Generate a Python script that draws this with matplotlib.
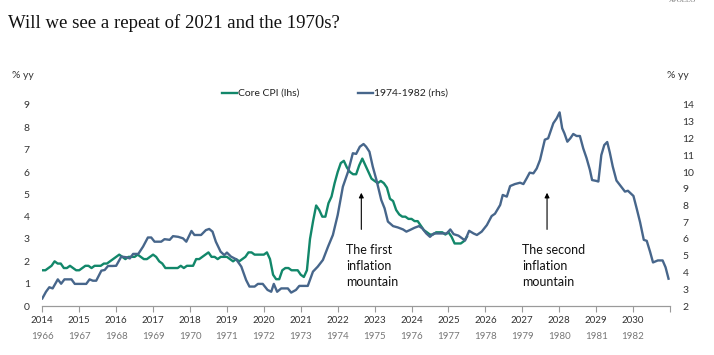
import numpy as np
import matplotlib.pyplot as plt
from matplotlib.lines import Line2D

plt.rcParams['font.family'] = ['Lato', 'DejaVu Sans']

# Core CPI, % yy, monthly Jan 2014 - Jul 2025 (left axis)
core_cpi = [
    1.6, 1.6, 1.7, 1.8, 2.0, 1.9, 1.9, 1.7, 1.7, 1.8, 1.7, 1.6,
    1.6, 1.7, 1.8, 1.8, 1.7, 1.8, 1.8, 1.8, 1.9, 1.9, 2.0, 2.1,
    2.2, 2.3, 2.2, 2.1, 2.2, 2.2, 2.2, 2.3, 2.2, 2.1, 2.1, 2.2,
    2.3, 2.2, 2.0, 1.9, 1.7, 1.7, 1.7, 1.7, 1.7, 1.8, 1.7, 1.8,
    1.8, 1.8, 2.1, 2.1, 2.2, 2.3, 2.4, 2.2, 2.2, 2.1, 2.2, 2.2,
    2.2, 2.1, 2.0, 2.1, 2.0, 2.1, 2.2, 2.4, 2.4, 2.3, 2.3, 2.3,
    2.3, 2.4, 2.1, 1.4, 1.2, 1.2, 1.6, 1.7, 1.7, 1.6, 1.6, 1.6,
    1.4, 1.3, 1.6, 3.0, 3.8, 4.5, 4.3, 4.0, 4.0, 4.6, 4.9, 5.5,
    6.0, 6.4, 6.5, 6.2, 6.0, 5.9, 5.9, 6.3, 6.6, 6.3, 6.0, 5.7,
    5.6, 5.5, 5.6, 5.5, 5.3, 4.8, 4.7, 4.3, 4.1, 4.0, 4.0, 3.9,
    3.9, 3.8, 3.8, 3.6, 3.4, 3.3, 3.2, 3.2, 3.3, 3.3, 3.3, 3.2,
    3.3, 3.1, 2.8, 2.8, 2.8, 2.9, 3.1,
]
cpi_x = 2014 + np.arange(len(core_cpi)) / 12

# 1966-1982 inflation, % yy, placed on the 2014-2030 time axis (right axis)
seventies_x = [
    2014.00, 2014.10, 2014.19, 2014.28, 2014.42, 2014.51, 2014.60, 2014.79, 2014.88, 2015.19,
    2015.28, 2015.37, 2015.46, 2015.60, 2015.69, 2015.78, 2015.90, 2016.00, 2016.14, 2016.28,
    2016.37, 2016.46, 2016.60, 2016.73, 2016.86, 2016.95, 2017.04, 2017.22, 2017.31, 2017.45,
    2017.54, 2017.68, 2017.81, 2017.90, 2018.04, 2018.12, 2018.30, 2018.43, 2018.52, 2018.61,
    2018.70, 2018.83, 2018.93, 2019.00, 2019.11, 2019.25, 2019.39, 2019.52, 2019.61, 2019.75,
    2019.84, 2019.97, 2020.10, 2020.20, 2020.27, 2020.36, 2020.47, 2020.65, 2020.74, 2020.87,
    2020.96, 2021.19, 2021.33, 2021.46, 2021.60, 2021.74, 2021.87, 2022.00, 2022.14, 2022.28,
    2022.41, 2022.50, 2022.60, 2022.70, 2022.77, 2022.86, 2022.95, 2023.05, 2023.18, 2023.27,
    2023.36, 2023.50, 2023.63, 2023.77, 2023.86, 2023.95, 2024.08, 2024.20, 2024.29, 2024.40,
    2024.50, 2024.60, 2024.95, 2025.05, 2025.14, 2025.27, 2025.45, 2025.56, 2025.68, 2025.77,
    2025.90, 2026.04, 2026.17, 2026.26, 2026.40, 2026.47, 2026.58, 2026.67, 2026.80, 2026.94,
    2027.03, 2027.12, 2027.20, 2027.30, 2027.39, 2027.48, 2027.61, 2027.70, 2027.84, 2027.93,
    2028.01, 2028.08, 2028.14, 2028.22, 2028.30, 2028.38, 2028.47, 2028.56, 2028.65, 2028.74,
    2028.83, 2028.89, 2029.00, 2029.06, 2029.14, 2029.22, 2029.30, 2029.37, 2029.45, 2029.55,
    2029.67, 2029.78, 2029.86, 2030.01, 2030.10, 2030.19, 2030.29, 2030.37, 2030.46, 2030.54,
    2030.67, 2030.80, 2030.88, 2030.96,
]
seventies = [
    2.45, 2.85, 3.12, 3.05, 3.59, 3.33, 3.59, 3.59, 3.32, 3.32,
    3.59, 3.51, 3.51, 4.11, 4.15, 4.39, 4.39, 4.40, 4.95, 4.91,
    4.84, 5.11, 5.11, 5.55, 6.09, 6.09, 5.84, 5.84, 5.99, 5.95,
    6.17, 6.13, 6.04, 5.84, 6.48, 6.24, 6.24, 6.53, 6.60, 6.44,
    5.84, 5.24, 5.04, 5.19, 4.95, 4.79, 4.35, 3.55, 3.16, 3.16,
    3.32, 3.32, 2.96, 2.85, 3.32, 2.85, 3.05, 3.05, 2.80, 2.96,
    3.20, 3.20, 4.05, 4.35, 4.75, 5.55, 6.24, 7.43, 9.12, 10.01,
    11.12, 11.08, 11.51, 11.67, 11.51, 11.21, 10.32, 9.52, 8.33, 7.83,
    7.04, 6.77, 6.69, 6.57, 6.44, 6.53, 6.67, 6.77, 6.64, 6.33,
    6.13, 6.33, 6.33, 6.57, 6.29, 6.20, 5.91, 6.49, 6.33, 6.24,
    6.44, 6.83, 7.37, 7.51, 8.03, 8.63, 8.53, 9.16, 9.28, 9.36,
    9.28, 9.63, 9.96, 9.92, 10.21, 10.72, 11.93, 12.01, 12.91, 13.20,
    13.56, 12.61, 12.31, 11.81, 12.01, 12.27, 12.15, 12.15, 11.41, 10.83,
    10.13, 9.52, 9.47, 9.43, 11.01, 11.61, 11.79, 11.16, 10.32, 9.49,
    9.15, 8.83, 8.88, 8.57, 7.80, 7.00, 5.95, 5.89, 5.24, 4.60,
    4.72, 4.72, 4.31, 3.63,
]

years = list(range(2014, 2032))
top_labels = [str(y) for y in range(2014, 2031)] + ['']
bottom_labels = [str(y) for y in range(1966, 1983)] + ['']

green = '#12876a'
blue = '#47668b'
W, H = 714, 355

fig = plt.figure(figsize=(W / 100, H / 100), dpi=100)
ax = fig.add_axes([42.3 / W, 1 - 306 / H, (670 - 42.3) / W, (306 - 105) / H])
ax.plot(cpi_x, core_cpi, color=green, lw=1.7, solid_joinstyle='round')
ax.set_xlim(2014, 2031)
ax.set_ylim(0, 9)
ax.set_yticks(range(0, 10))

ax2 = ax.twinx()
ax2.plot(seventies_x, seventies, color=blue, lw=1.7, solid_joinstyle='round')
ax2.set_ylim(2, 14)
ax2.set_yticks(range(2, 15))

for a in (ax, ax2):
    for s in ('top', 'left', 'right'):
        a.spines[s].set_visible(False)
    a.spines['bottom'].set_color('#9a9a9a')
    a.spines['bottom'].set_linewidth(0.8)
ax.tick_params(axis='y', length=0, pad=9, labelsize=7.5, labelcolor='#333333')
ax2.tick_params(axis='y', length=0, pad=9, labelsize=7.5, labelcolor='#333333')

ax.set_xticks(years, top_labels)
ax.tick_params(axis='x', length=4, width=0.8, color='#9a9a9a', pad=3.5,
               labelsize=7, labelcolor='#333333')
sec = ax.secondary_xaxis('bottom')
sec.set_xticks(years, bottom_labels)
sec.tick_params(axis='x', length=0, pad=18.5, labelsize=7, labelcolor='#777777')
sec.spines['bottom'].set_visible(False)

# annotations
ax.annotate('', xy=(2022.64, 5.07), xytext=(2022.64, 3.43),
            arrowprops=dict(arrowstyle='-|>', color='black', lw=0.8,
                            mutation_scale=7, shrinkA=0, shrinkB=0))
ax.text(2022.23, 2.78, 'The first\ninflation\nmountain', fontsize=9,
        va='top', ha='left', color='#111111', linespacing=1.38)
ax.annotate('', xy=(2027.67, 5.07), xytext=(2027.67, 3.43),
            arrowprops=dict(arrowstyle='-|>', color='black', lw=0.8,
                            mutation_scale=7, shrinkA=0, shrinkB=0))
ax.text(2026.99, 2.78, 'The second\ninflation\nmountain', fontsize=9,
        va='top', ha='left', color='#111111', linespacing=1.38)

# legend drawn by hand above the plot
for x0, label, col in ((222, 'Core CPI (lhs)', green), (358, '1974-1982 (rhs)', blue)):
    fig.add_artist(Line2D([x0 / W, (x0 + 15) / W], [1 - 93 / H] * 2, color=col, lw=1.7))
    fig.text((x0 + 16) / W, 1 - 93 / H, label, fontsize=7.5, va='center', ha='left',
             color='#222222')

fig.text(12 / W, 1 - 75 / H, '% yy', fontsize=7.5, va='center', ha='left', color='#333333')
fig.text(667 / W, 1 - 75 / H, '% yy', fontsize=7.5, va='center', ha='left', color='#333333')

fig.text(8 / W, 1 - 23 / H, 'Will we see a repeat of 2021 and the 1970s?',
         fontsize=13.5, family='Liberation Serif', va='center', ha='left', color='#111111')
fig.text(683 / W, 1 - 1 / H, 'APOLLO', fontsize=5, family='Liberation Serif',
         va='center', ha='center', color='#777777')

fig.savefig('out.png', dpi=100)
